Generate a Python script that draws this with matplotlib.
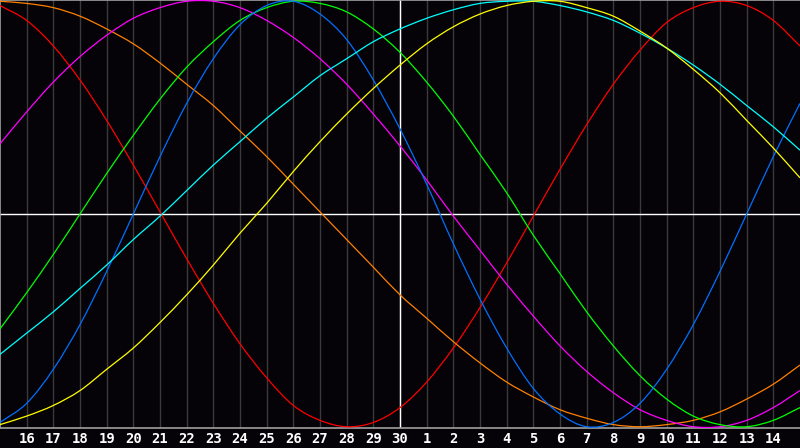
import matplotlib
matplotlib.use('Agg')
import matplotlib.pyplot as plt
from matplotlib.path import Path
from matplotlib.patches import PathPatch

# day labels along the bottom (one per grid line)
days = [16, 17, 18, 19, 20, 21, 22, 23, 24, 25, 26, 27, 28, 29, 30,
        1, 2, 3, 4, 5, 6, 7, 8, 9, 10, 11, 12, 13, 14]
today = 30

# cycle values read at each day, from 15 (left edge) to 15 (right edge)
red = [0.98, 0.91, 0.79, 0.63, 0.44, 0.23, 0.01, -0.21, -0.42, -0.61, -0.77,
       -0.90, -0.97, -1.00, -0.98, -0.91, -0.79, -0.63, -0.44, -0.23, -0.01,
       0.21, 0.42, 0.61, 0.77, 0.90, 0.97, 1.00, 0.98, 0.91, 0.79]
orange = [1.00, 0.99, 0.97, 0.93, 0.87, 0.80, 0.71, 0.61, 0.51, 0.39, 0.27,
          0.14, 0.01, -0.12, -0.25, -0.38, -0.49, -0.60, -0.70, -0.79, -0.86,
          -0.92, -0.96, -0.99, -1.00, -0.99, -0.97, -0.93, -0.87, -0.80, -0.71]
magenta = [0.33, 0.48, 0.62, 0.74, 0.84, 0.92, 0.97, 1.00, 1.00, 0.97, 0.91,
           0.83, 0.73, 0.61, 0.47, 0.32, 0.16, -0.01, -0.17, -0.33, -0.48,
           -0.62, -0.74, -0.84, -0.92, -0.97, -1.00, -1.00, -0.97, -0.91, -0.83]
green = [-0.54, -0.37, -0.19, 0.00, 0.19, 0.37, 0.54, 0.69, 0.81, 0.91, 0.97,
         1.00, 0.99, 0.95, 0.87, 0.76, 0.62, 0.46, 0.28, 0.10, -0.10,
         -0.28, -0.46, -0.62, -0.76, -0.87, -0.95, -0.99, -1.00, -0.97, -0.91]
blue = [-0.98, -0.89, -0.73, -0.52, -0.27, 0.00, 0.27, 0.52, 0.73, 0.89, 0.98,
        1.00, 0.94, 0.82, 0.63, 0.40, 0.14, -0.14, -0.40, -0.63, -0.82,
        -0.94, -1.00, -0.98, -0.89, -0.73, -0.52, -0.27, 0.00, 0.27, 0.52]
cyan = [-0.66, -0.56, -0.46, -0.35, -0.24, -0.12, -0.01, 0.11, 0.23, 0.34, 0.45,
        0.55, 0.65, 0.73, 0.81, 0.87, 0.92, 0.96, 0.99, 1.00, 1.00,
        0.98, 0.95, 0.91, 0.85, 0.78, 0.70, 0.61, 0.51, 0.41, 0.30]
yellow = [-0.99, -0.95, -0.90, -0.83, -0.73, -0.63, -0.51, -0.38, -0.24, -0.09, 0.05,
          0.20, 0.34, 0.47, 0.59, 0.70, 0.80, 0.88, 0.94, 0.98, 1.00,
          1.00, 0.97, 0.93, 0.86, 0.78, 0.68, 0.57, 0.44, 0.31, 0.17]

series = [(red, '#ff0000'), (orange, '#ff8000'), (magenta, '#ff00ff'),
          (green, '#00ff00'), (blue, '#0070ff'), (cyan, '#00ffff'),
          (yellow, '#ffff00')]


def smooth_path(xs, ys):
    # draw the line through the read points as joined bezier pieces
    verts = [(xs[0], ys[0])]
    codes = [Path.MOVETO]
    n = len(xs)
    for i in range(n - 1):
        y0 = ys[i - 1] if i > 0 else ys[i]
        y3 = ys[i + 2] if i + 2 < n else ys[i + 1]
        d1 = (ys[i + 1] - y0) / (2 if i > 0 else 1)
        d2 = (y3 - ys[i]) / (2 if i + 2 < n else 1)
        verts += [(xs[i] + 1 / 3, ys[i] + d1 / 3),
                  (xs[i + 1] - 1 / 3, ys[i + 1] - d2 / 3),
                  (xs[i + 1], ys[i + 1])]
        codes += [Path.CURVE4] * 3
    return Path(verts, codes)


bg = '#050308'
fig = plt.figure(figsize=(8, 4.48), dpi=100, facecolor=bg)
ax = fig.add_axes([0, 20 / 448, 1, 428 / 448], facecolor=bg)

n = len(red)
xs = list(range(n))
ticks = list(range(1, n - 1))

for t in ticks:
    ax.axvline(t, color='#3a3a3a', lw=1, zorder=1)
ax.axhline(0, color='white', lw=1, zorder=2)
ax.axvline(ticks[days.index(today)], color='white', lw=1, zorder=2)

for vals, col in series:
    ax.add_patch(PathPatch(smooth_path(xs, vals), facecolor='none',
                           edgecolor=col, lw=0.9, zorder=3))

ax.set_xlim(0, n - 1)
ax.set_ylim(-1.006, 1.006)
ax.set_xticks(ticks)
ax.set_xticklabels([str(d) for d in days])
ax.tick_params(axis='x', length=0, pad=3, colors='white', labelsize=10)
for lab in ax.get_xticklabels():
    lab.set_fontfamily('DejaVu Sans Mono')
    lab.set_fontweight('bold')
ax.set_yticks([])

for side in ['top', 'left', 'bottom']:
    ax.spines[side].set_color('#a0a0a0')
    ax.spines[side].set_linewidth(1.2)
ax.spines['right'].set_visible(False)

fig.savefig('out.png', dpi=100, facecolor=bg)
